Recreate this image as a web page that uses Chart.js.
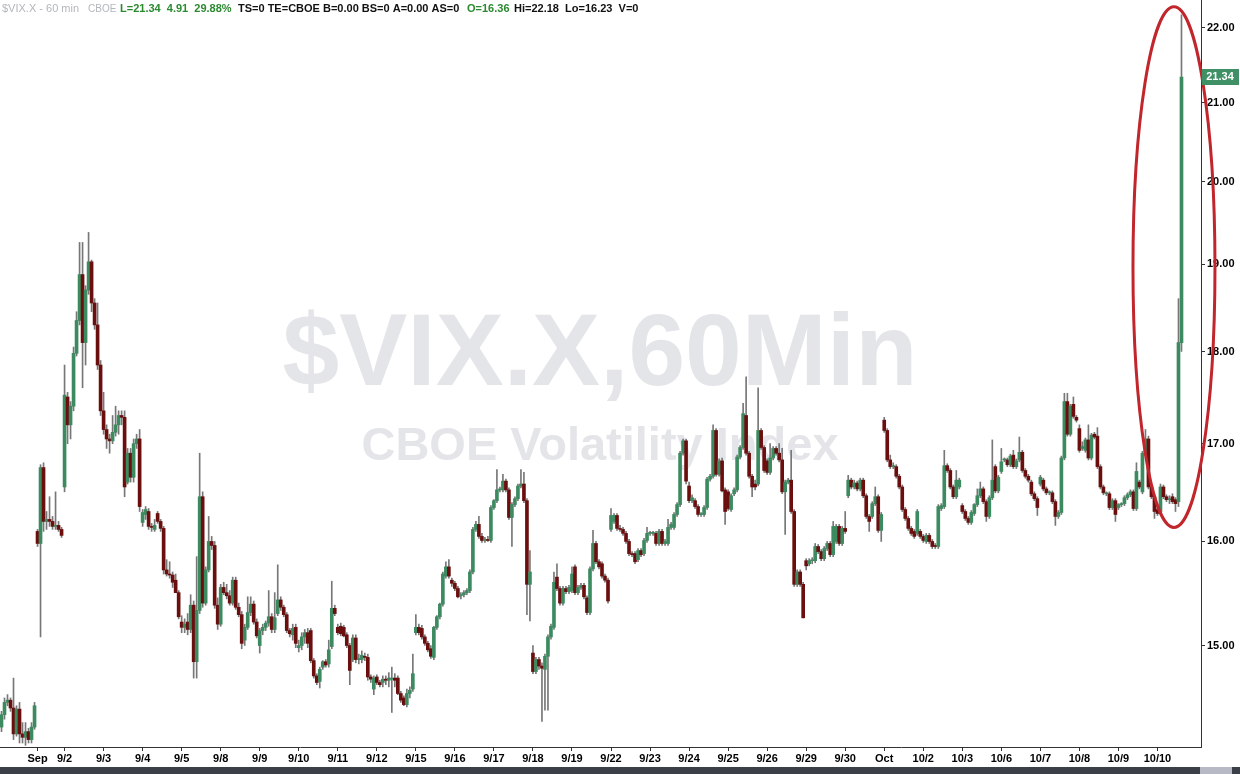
<!DOCTYPE html>
<html><head><meta charset="utf-8">
<script src="https://cdn.jsdelivr.net/npm/chart.js@4.4.1/dist/chart.umd.min.js"></script>
<style>html,body{margin:0;padding:0;background:#fff;overflow:hidden}#wrap{position:relative;width:1240px;height:774px}</style>
</head><body><div id="wrap"><canvas id="c"></canvas></div>
<script>
// 60-minute bars, 13 per session (first row = last part of the previous session)
const opens = [
14.26,14.37,14.48,14.50,14.43,14.20,14.42,14.20,14.17,14.22,14.15,14.26,
16.10,15.98,16.75,16.20,16.22,16.20,16.15,16.16,16.12,16.55,17.50,17.20,17.40,
17.98,18.35,18.88,18.10,18.70,19.03,18.55,18.30,17.85,17.35,17.15,17.05,17.03,
17.12,17.20,17.30,17.28,16.60,16.90,16.65,17.00,17.05,16.19,16.27,16.30,16.15,
16.12,16.28,16.20,16.13,15.72,15.68,15.67,15.62,15.50,15.22,15.17,15.22,15.15,
15.38,14.85,15.33,16.45,15.40,15.72,16.00,15.96,15.38,15.20,15.55,15.50,15.47,
15.40,15.62,15.36,15.29,15.05,15.17,15.31,15.39,15.22,15.00,15.14,15.17,15.21,
15.27,15.15,15.30,15.43,15.36,15.29,15.14,15.10,15.17,14.98,15.00,15.08,15.12,
15.14,14.86,14.72,14.67,14.80,14.85,14.83,14.99,15.35,15.17,15.18,15.17,15.10,
15.00,14.87,15.07,14.87,14.87,14.90,14.89,14.71,14.60,14.71,14.66,14.66,14.69,
14.68,14.69,14.70,14.70,14.56,14.52,14.46,14.56,14.60,15.12,15.17,15.16,15.08,
15.02,14.97,14.89,15.17,15.27,15.39,15.66,15.75,15.62,15.59,15.54,15.47,15.48,
15.50,15.52,15.70,16.12,16.17,16.05,16.01,16.02,16.01,16.34,16.41,16.52,16.52,
16.61,16.52,16.24,16.37,16.43,16.56,16.58,16.41,15.58,14.93,14.76,14.87,14.81,
14.78,14.90,15.08,15.17,15.65,15.54,15.40,15.54,15.51,15.52,15.75,15.50,15.55,
15.57,15.45,15.31,15.73,15.98,15.80,15.78,15.66,15.62,16.12,16.20,16.26,16.13,
16.12,16.08,16.00,15.88,15.88,15.82,15.91,15.88,16.01,16.08,16.08,16.08,15.98,
16.10,15.98,15.98,16.14,16.14,16.27,16.37,16.90,17.03,16.56,16.41,16.41,16.35,
16.27,16.27,16.34,16.63,16.66,17.14,16.68,16.82,16.52,16.50,16.32,16.48,16.52,
16.86,16.96,17.30,16.90,16.66,16.58,16.58,17.14,16.96,16.82,16.70,16.85,16.95,
16.90,16.83,16.50,16.60,16.62,16.30,15.58,15.70,15.58,15.81,15.78,15.81,15.81,
15.95,15.90,15.83,15.93,15.98,15.87,16.00,16.15,15.98,16.13,16.46,16.62,16.55,
16.59,16.53,16.62,16.46,16.25,16.25,16.38,16.45,16.11,17.25,17.14,16.83,16.76,
16.76,16.66,16.55,16.32,16.23,16.13,16.10,16.08,16.10,16.05,16.00,16.06,16.00,
15.96,15.95,16.33,16.35,16.77,16.72,16.55,16.45,16.55,16.36,16.30,16.23,16.19,
16.28,16.37,16.46,16.53,16.40,16.25,16.44,16.76,16.51,16.71,16.83,16.83,16.78,
16.88,16.76,16.83,16.91,16.72,16.66,16.60,16.48,16.43,16.58,16.62,16.53,16.49,
16.49,16.40,16.25,16.29,16.85,17.45,17.10,17.42,17.28,17.16,16.95,16.93,17.04,
16.85,17.10,17.08,16.76,16.55,16.48,16.48,16.34,16.41,16.34,16.37,16.38,16.44,
16.47,16.50,16.33,16.60,16.50,16.90,17.05,16.55,16.45,16.32,16.30,16.55,16.45,
16.42,16.45,16.42,16.40,18.10];
const highs = [
14.40,14.52,14.55,14.52,14.70,14.45,14.48,14.30,14.30,14.25,14.30,14.48,
16.12,16.78,16.80,16.30,16.45,16.25,16.50,16.20,16.14,17.85,17.55,17.45,18.05,
18.45,19.26,19.26,18.75,19.38,19.05,18.60,18.55,17.90,17.55,17.20,17.10,17.30,
17.40,17.35,17.35,17.35,16.95,16.95,17.05,17.10,17.15,16.32,16.35,16.33,16.18,
16.22,16.30,16.22,16.15,15.82,15.80,15.70,15.68,15.52,15.28,15.25,15.30,15.48,
15.42,15.85,16.90,16.50,15.75,16.25,16.05,16.00,15.45,15.58,15.60,15.58,15.52,
15.65,15.65,15.40,15.32,15.20,15.46,15.46,15.42,15.25,15.16,15.20,15.23,15.52,
15.30,15.50,15.77,15.46,15.38,15.31,15.16,15.20,15.20,15.05,15.12,15.15,15.16,
15.16,14.88,14.74,14.80,14.86,14.87,15.05,15.61,15.38,15.20,15.21,15.19,15.12,
15.02,15.10,15.10,14.92,14.95,14.93,14.92,14.73,14.72,14.73,14.68,14.72,14.72,
14.75,14.80,14.74,14.72,14.58,14.54,14.60,14.62,14.92,15.29,15.20,15.19,15.10,
15.04,15.00,15.18,15.28,15.40,15.70,15.80,15.82,15.64,15.61,15.56,15.50,15.52,
15.54,15.72,16.14,16.20,16.25,16.08,16.04,16.05,16.36,16.42,16.73,16.55,16.68,
16.63,16.54,16.39,16.45,16.58,16.73,16.70,16.43,15.91,15.00,14.89,14.89,14.84,
14.92,15.10,15.20,15.70,15.78,15.56,15.56,15.56,15.57,15.75,15.77,15.57,15.59,
15.59,15.47,15.75,16.11,16.00,15.82,15.80,15.68,15.64,16.33,16.28,16.28,16.16,
16.14,16.10,16.02,15.90,15.90,15.93,15.93,16.03,16.14,16.10,16.10,16.10,16.12,
16.12,16.02,16.22,16.19,16.29,16.39,16.92,17.05,17.05,16.60,16.47,16.43,16.37,
16.29,16.36,16.65,16.68,17.20,17.16,16.84,16.85,16.54,16.52,16.48,16.54,16.88,
16.98,17.43,17.72,16.92,16.68,16.62,17.60,17.16,16.98,16.84,17.00,16.97,16.97,
17.00,16.95,16.62,16.64,16.93,16.32,15.72,15.72,15.60,15.83,15.83,15.84,15.98,
15.97,15.92,15.95,16.00,16.00,16.20,16.17,16.17,16.15,16.30,16.67,16.64,16.62,
16.61,16.64,16.64,16.48,16.27,16.40,16.55,16.47,16.29,17.28,17.16,16.88,16.80,
16.78,16.68,16.57,16.34,16.25,16.15,16.12,16.32,16.12,16.07,16.08,16.08,16.02,
15.98,16.37,16.38,16.93,16.79,16.74,16.57,16.72,16.64,16.38,16.32,16.25,16.31,
16.38,16.53,16.60,16.55,16.42,16.46,17.04,16.78,16.67,16.95,16.85,16.85,16.89,
16.93,16.84,17.07,16.93,16.74,16.68,16.62,16.50,16.45,16.67,16.64,16.55,16.51,
16.51,16.42,16.31,16.87,17.54,17.54,17.42,17.50,17.30,17.20,17.02,17.06,17.20,
17.11,17.12,17.17,16.78,16.57,16.50,16.50,16.43,16.43,16.38,16.39,16.46,16.49,
16.52,16.52,16.80,16.62,16.92,17.15,17.08,16.57,16.47,16.34,16.58,16.57,16.47,
16.46,16.48,16.44,18.60,22.18];
const lows = [
14.22,14.33,14.45,14.40,14.15,14.18,14.12,14.12,14.10,14.12,14.12,14.24,
15.95,15.08,16.10,16.12,16.15,16.12,16.12,16.10,16.04,16.50,17.00,17.05,17.35,
17.95,18.30,17.60,17.85,18.65,18.45,18.25,17.80,17.30,17.10,16.95,16.90,17.00,
17.08,17.10,17.20,16.45,16.58,16.60,16.60,16.95,16.30,16.15,16.22,16.12,16.10,
16.10,16.18,16.10,15.68,15.66,15.64,15.55,15.50,15.25,15.12,15.12,15.10,15.12,
14.70,14.70,15.30,15.36,15.38,15.70,15.92,15.35,15.15,15.18,15.48,15.44,15.38,
15.38,15.34,15.27,14.97,15.00,15.15,15.28,15.20,15.07,14.93,15.10,15.14,15.18,
15.12,15.12,15.28,15.33,15.27,15.12,15.08,15.05,14.98,14.94,14.96,15.02,14.98,
14.84,14.70,14.64,14.61,14.78,14.80,14.80,14.97,15.28,15.10,15.09,15.08,14.98,
14.64,14.85,14.84,14.83,14.84,14.86,14.68,14.66,14.55,14.64,14.62,14.62,14.64,
14.62,14.39,14.62,14.55,14.48,14.45,14.44,14.52,14.58,15.10,15.10,15.06,15.00,
14.94,14.88,14.87,15.15,15.25,15.37,15.64,15.64,15.56,15.52,15.45,15.44,15.46,
15.48,15.50,15.68,16.10,16.03,15.99,15.99,16.00,15.99,16.32,16.39,16.50,16.50,
16.50,16.22,15.95,16.35,16.41,16.54,16.39,15.29,15.23,14.74,14.74,14.78,14.31,
14.41,14.41,15.06,15.15,15.52,15.38,15.38,15.49,15.49,15.50,15.48,15.48,15.53,
15.44,15.29,15.29,15.71,15.78,15.73,15.64,15.60,15.40,16.10,16.18,16.11,16.10,
16.06,15.98,15.86,15.85,15.78,15.80,15.85,15.86,15.99,16.06,16.06,15.96,15.96,
15.96,15.96,15.96,16.12,16.12,16.25,16.35,16.88,16.58,16.39,16.39,16.33,16.25,
16.25,16.25,16.32,16.61,16.64,16.66,16.66,16.50,16.17,16.31,16.30,16.46,16.50,
16.84,16.94,16.88,16.64,16.45,16.52,16.56,16.94,16.70,16.68,16.68,16.83,16.88,
16.81,16.48,16.07,16.58,16.28,15.56,15.56,15.56,15.26,15.72,15.76,15.78,15.79,
15.88,15.81,15.81,15.91,15.85,15.85,15.98,15.96,15.96,16.08,16.44,16.53,16.53,
16.51,16.51,16.44,16.23,16.10,16.23,16.36,16.09,16.00,17.12,16.81,16.74,16.74,
16.64,16.53,16.30,16.21,16.11,16.06,16.03,16.06,16.03,15.99,15.98,15.98,15.93,
15.93,15.93,16.31,16.33,16.70,16.53,16.43,16.43,16.53,16.28,16.21,16.17,16.17,
16.26,16.35,16.44,16.38,16.20,16.23,16.42,16.49,16.49,16.69,16.81,16.76,16.76,
16.74,16.74,16.81,16.70,16.64,16.60,16.46,16.41,16.26,16.56,16.51,16.47,16.47,
16.38,16.16,16.23,16.27,16.83,17.08,17.08,17.27,17.23,16.91,16.93,16.91,16.83,
16.83,17.05,16.74,16.53,16.47,16.46,16.32,16.32,16.20,16.32,16.35,16.36,16.42,
16.45,16.31,16.31,16.53,16.48,16.88,16.53,16.43,16.23,16.26,16.28,16.43,16.40,
16.38,16.38,16.30,16.35,18.00];
const closes = [
14.37,14.48,14.50,14.43,14.20,14.42,14.20,14.17,14.22,14.15,14.26,14.45,
15.98,16.75,16.20,16.22,16.20,16.15,16.16,16.12,16.06,17.52,17.20,17.40,17.98,
18.35,18.88,18.10,18.70,19.03,18.55,18.30,17.85,17.35,17.15,17.05,17.03,17.12,
17.20,17.30,17.28,16.55,16.90,16.65,17.00,17.05,16.35,16.29,16.32,16.15,16.14,
16.16,16.20,16.13,15.72,15.68,15.67,15.60,15.50,15.27,15.17,15.20,15.15,15.38,
14.85,15.33,16.45,15.40,15.72,16.00,15.96,15.38,15.20,15.55,15.50,15.47,15.40,
15.62,15.36,15.29,15.02,15.17,15.31,15.39,15.22,15.09,15.14,15.17,15.21,15.27,
15.15,15.26,15.43,15.36,15.29,15.14,15.11,15.16,15.02,15.00,15.08,15.12,15.02,
14.86,14.72,14.66,14.78,14.85,14.82,14.96,15.35,15.30,15.12,15.11,15.09,15.00,
14.77,15.07,14.87,14.88,14.91,14.89,14.71,14.69,14.70,14.66,14.64,14.69,14.68,
14.70,14.70,14.68,14.56,14.50,14.46,14.56,14.59,14.74,15.17,15.12,15.08,15.02,
14.96,14.90,15.17,15.27,15.39,15.68,15.75,15.66,15.59,15.54,15.46,15.48,15.50,
15.52,15.70,16.12,16.17,16.05,16.01,16.02,16.01,16.34,16.41,16.52,16.52,16.61,
16.52,16.24,16.37,16.43,16.56,16.58,16.41,15.58,15.70,14.76,14.87,14.81,14.79,
14.90,15.08,15.18,15.60,15.54,15.40,15.54,15.51,15.55,15.68,15.50,15.55,15.57,
15.46,15.31,15.73,15.98,15.80,15.75,15.66,15.62,15.42,16.26,16.26,16.13,16.12,
16.08,16.00,15.88,15.87,15.80,15.91,15.87,16.01,16.08,16.08,16.08,15.98,16.10,
15.98,16.00,16.14,16.17,16.27,16.37,16.90,17.03,16.61,16.41,16.44,16.35,16.27,
16.27,16.34,16.63,16.66,17.14,16.68,16.82,16.51,16.30,16.33,16.46,16.52,16.86,
16.96,17.32,16.90,16.66,16.55,16.55,17.14,16.96,16.72,16.70,16.85,16.95,16.90,
16.83,16.50,16.60,16.62,16.30,15.58,15.70,15.58,15.26,15.76,15.81,15.81,15.95,
15.90,15.83,15.93,15.98,15.87,16.15,16.15,15.98,16.13,16.10,16.62,16.55,16.59,
16.53,16.62,16.46,16.25,16.20,16.38,16.45,16.11,16.27,17.14,16.83,16.76,16.76,
16.66,16.55,16.32,16.23,16.13,16.08,16.05,16.30,16.05,16.01,16.06,16.00,15.95,
15.95,16.35,16.36,16.77,16.72,16.55,16.45,16.62,16.62,16.30,16.23,16.19,16.29,
16.37,16.46,16.53,16.40,16.25,16.44,16.62,16.51,16.65,16.81,16.83,16.78,16.87,
16.76,16.82,16.91,16.72,16.66,16.62,16.48,16.43,16.34,16.65,16.53,16.49,16.49,
16.40,16.25,16.29,16.85,17.45,17.10,17.40,17.29,17.25,16.93,16.97,17.04,16.85,
17.09,17.07,16.76,16.55,16.49,16.48,16.34,16.41,16.27,16.37,16.38,16.44,16.47,
16.50,16.33,16.71,16.55,16.90,17.05,16.55,16.45,16.30,16.28,16.55,16.45,16.42,
16.43,16.40,16.38,18.10,21.34];

const tickBars  = [12,21,34,47,60,73,86,99,112,125,138,151,164,177,190,203,216,229,242,255,268,281,294,307,320,333,346,359,372,385];
const tickNames = ['Sep','9/2','9/3','9/4','9/5','9/8','9/9','9/10','9/11','9/12','9/15','9/16','9/17','9/18','9/19','9/22','9/23','9/24','9/25','9/26','9/29','9/30','Oct','10/2','10/3','10/6','10/7','10/8','10/9','10/10'];
const yTicks = [15,16,17,18,19,20,21,22];
const lastPrice = 21.34;
const headerParts = [
  ['$VIX.X - 60 min', '#b2b6bd', 'normal', 11],
  ['CBOE', '#b2b6bd', 'normal', 10],
  ['L=21.34  4.91  29.88%', '#2b8a30', 'bold', 11],
  ['TS=0 TE=CBOE B=0.00 BS=0 A=0.00 AS=0', '#111111', 'bold', 11],
  ['O=16.36', '#2b8a30', 'bold', 11],
  ['Hi=22.18  Lo=16.23  V=0', '#111111', 'bold', 11]
];
const watermark = ['$VIX.X,60Min', 'CBOE Volatility Index'];

const N_SLOTS = 400;
const FONT = '"Liberation Sans", Arial, sans-serif';
const GREEN = '#3c8a60', RED = '#6a0e0e', WICK = '#777777';

const barLabels = Array.from({length: N_SLOTS}, (_, i) => {
  const k = tickBars.indexOf(i); return k >= 0 ? tickNames[k] : '';
});
const bodyData = barLabels.map((_, i) => i < opens.length ? [Math.min(opens[i], closes[i]), Math.max(opens[i], closes[i])] : null);
const bodyColors = barLabels.map((_, i) => i < opens.length && closes[i] < opens[i] ? RED : GREEN);
const wickData = barLabels.map((_, i) => i < lows.length ? [lows[i], highs[i]] : null);

const deco = {
  id: 'deco',
  beforeDatasetsDraw(chart) {
    const ctx = chart.ctx; ctx.save();
    ctx.fillStyle = '#e4e5e9'; ctx.textAlign = 'center'; ctx.textBaseline = 'alphabetic';
    ctx.font = 'bold 102px ' + FONT; ctx.fillText(watermark[0], 600, 385);
    ctx.font = 'bold 47px ' + FONT; ctx.fillText(watermark[1], 600, 460);
    ctx.restore();
  },
  afterDraw(chart) {
    const ctx = chart.ctx, xs = chart.scales.x, ys = chart.scales.y;
    ctx.save();
    // ellipse annotation around the final spike
    const cx = xs.getPixelForValue(390.5);
    const top = ys.getPixelForValue(22.29), bot = ys.getPixelForValue(16.14);
    ctx.beginPath(); ctx.ellipse(cx, (top + bot) / 2, 41, (bot - top) / 2, 0, 0, Math.PI * 2);
    ctx.strokeStyle = '#c1262c'; ctx.lineWidth = 3; ctx.stroke();
    // last price marker
    const py = ys.getPixelForValue(lastPrice);
    ctx.fillStyle = '#3f9064'; ctx.fillRect(1202, Math.round(py) - 8, 37, 16);
    ctx.fillStyle = '#ffffff'; ctx.font = 'bold 11px ' + FONT; ctx.textAlign = 'center'; ctx.textBaseline = 'middle';
    ctx.fillText(lastPrice.toFixed(2), 1220, Math.round(py));
    // header line
    const starts = [2, 88, 120, 238, 467, 514];
    ctx.textAlign = 'left'; ctx.textBaseline = 'middle';
    headerParts.forEach((p, k) => {
      ctx.font = p[2] + ' ' + p[3] + 'px ' + FONT; ctx.fillStyle = p[1];
      ctx.fillText(p[0], starts[k], 9);
    });
    // bottom status bar
    ctx.fillStyle = '#3b3f48'; ctx.fillRect(0, 767, 1240, 7);
    ctx.fillStyle = '#b7bac5'; ctx.fillRect(1200, 767, 32, 7);
    ctx.restore();
  }
};

new Chart(document.getElementById('c'), {
  type: 'bar',
  data: {
    labels: barLabels,
    datasets: [
      { data: bodyData, backgroundColor: bodyColors, barThickness: 3, minBarLength: 1, grouped: false, order: 0, borderWidth: 0 },
      { data: wickData, backgroundColor: WICK, barThickness: 1, grouped: false, order: 1, borderWidth: 0 }
    ]
  },
  options: {
    responsive: true, maintainAspectRatio: false, animation: false, devicePixelRatio: 1, events: [],
    layout: { padding: 0 },
    plugins: { legend: { display: false }, tooltip: { enabled: false } },
    scales: {
      x: {
        type: 'category', offset: true,
        grid: { display: true, drawOnChartArea: false, drawTicks: true, tickLength: 4, tickColor: '#333', offset: false },
        border: { display: true, color: '#333', width: 1 },
        ticks: { autoSkip: false, maxRotation: 0, minRotation: 0, color: '#000', padding: 1,
                 font: { family: FONT, size: 11, weight: 'bold' },
                 callback: function (v) { return this.getLabelForValue(v); } },
        afterBuildTicks: (s) => { s.ticks = tickBars.map(v => ({ value: v })); },
        afterFit: (s) => { s.height = 27; s.paddingLeft = 0; s.paddingRight = 0; }
      },
      y: {
        type: 'logarithmic', position: 'right', min: 14.085, max: 22.385,
        grid: { display: true, drawOnChartArea: false, drawTicks: true, tickLength: 4, tickColor: '#333' },
        border: { display: true, color: '#333', width: 1 },
        ticks: { color: '#000', padding: 2, font: { family: FONT, size: 11, weight: 'bold' },
                 callback: (v) => Number(v).toFixed(2) },
        afterBuildTicks: (s) => { s.ticks = yTicks.map(v => ({ value: v })); },
        afterFit: (s) => { s.width = 39; s.paddingTop = 0; s.paddingBottom = 0; }
      }
    }
  },
  plugins: [deco]
});
</script></body></html>
